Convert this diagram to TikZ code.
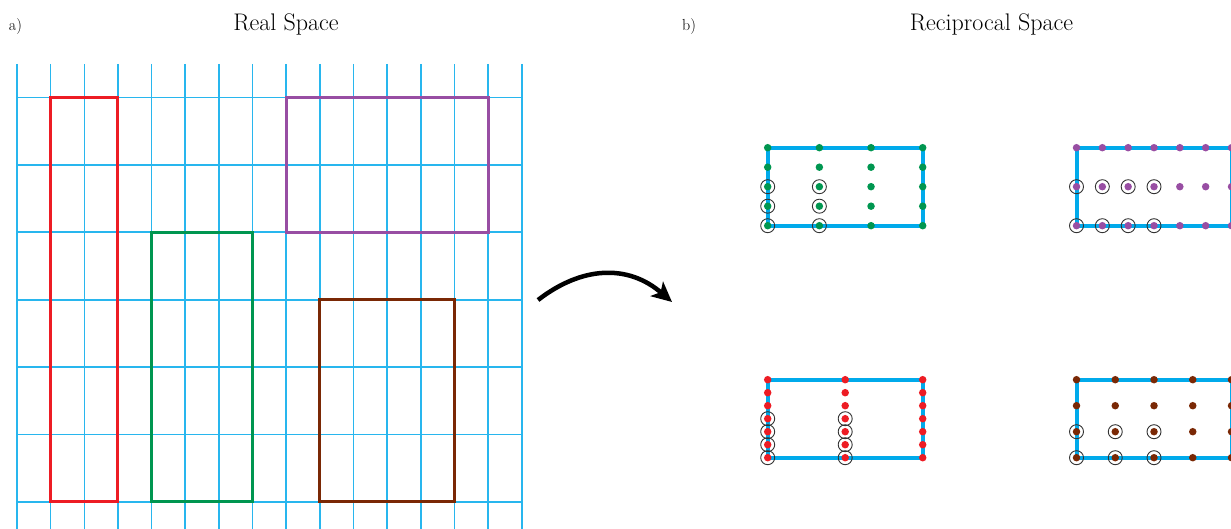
\documentclass[tikz,border=0pt]{standalone}
\usepackage{fontspec}
\usepackage{tikz}
\usetikzlibrary{positioning,arrows.meta}
\definecolor{GridBlue}{RGB}{40,182,238}
\definecolor{ZoneBlue}{RGB}{0,170,235}
\definecolor{CellRed}{RGB}{237,28,36}
\definecolor{CellGreen}{RGB}{0,150,80}
\definecolor{CellPurple}{RGB}{152,78,163}
\definecolor{CellBrown}{RGB}{122,40,5}
\tikzset{
  gridline/.style={draw=GridBlue,line width=1.6pt},
  cell/.style={line width=3pt},
  zone/.style={draw=ZoneBlue,line width=4pt},
  kpt/.style={circle,inner sep=0pt,minimum size=7.5pt},
  ring/.style={circle,draw=black!80,line width=0.9pt,inner sep=0pt,minimum size=14pt},
}
\tikzset{ttl/.style={font=\fontsize{24}{28}\selectfont}, tag/.style={font=\fontsize{16}{18}\selectfont}, bigarrow/.style={line width=4.5pt,-{Stealth[length=20pt,width=19pt,inset=5pt]}}}

\begin{document}
\begin{tikzpicture}[x=1pt,y=-1pt]
\useasboundingbox (0,0) rectangle (1231,529);
\node[tag](lbla) at (15.5,27){a)};\node[ttl](ttlreal) at (286,24.5){Real Space};
\node[tag](lblb) at (689,27){b)};\node[ttl](ttlrec) at (991.5,24.5){Reciprocal Space};
% real space lattice and supercells
\begin{scope}[shift={(17pt,-97.5pt)},x=33.65pt,y=-67.4pt]
\foreach \i in {0,...,15}{\draw[gridline] (\i,-0.5) -- (\i,6.5);}
\foreach \j in {0,...,6}{\draw[gridline] (0,\j) -- (15,\j);}
\draw[cell,draw=CellRed] (1,0) rectangle (3,6);\draw[cell,draw=CellGreen] (4,2) rectangle (7,6);
\draw[cell,draw=CellPurple] (8,0) rectangle (14,2);\draw[cell,draw=CellBrown] (9,3) rectangle (13,6);
\end{scope}
\coordinate (src) at (538,300);\coordinate (dst) at (672,302);
\draw[bigarrow] (src) .. controls (582,266) and (628,264) .. (dst);
% reciprocal space zones
\foreach \n/\px/\py/\w/\h/\c in {grn/767.7/225.7/3/4/CellGreen, pur/1076.5/225.7/6/2/CellPurple, red/767.7/457.7/2/6/CellRed, brn/1076.5/457.7/4/3/CellBrown}{
  \pgfmathsetmacro\dx{155/\w}\pgfmathsetmacro\dy{78/\h}
  \pgfmathtruncatemacro\rw{\w/2}\pgfmathtruncatemacro\rh{\h/2}
  \begin{scope}[shift={(\px pt,-\py pt)},x=\dx pt,y=\dy pt]
    \draw[zone] (0,0) rectangle (\w,\h);
    \foreach \a in {0,...,\w}{\foreach \b in {0,...,\h}{\node[kpt,fill=\c](\n-\a-\b) at (\a,\b){};}}
    \foreach \a in {0,...,\rw}{\foreach \b in {0,...,\rh}{\node[ring](\n-o-\a-\b) at (\n-\a-\b){};}}
  \end{scope}
}
\end{tikzpicture}
\end{document}
